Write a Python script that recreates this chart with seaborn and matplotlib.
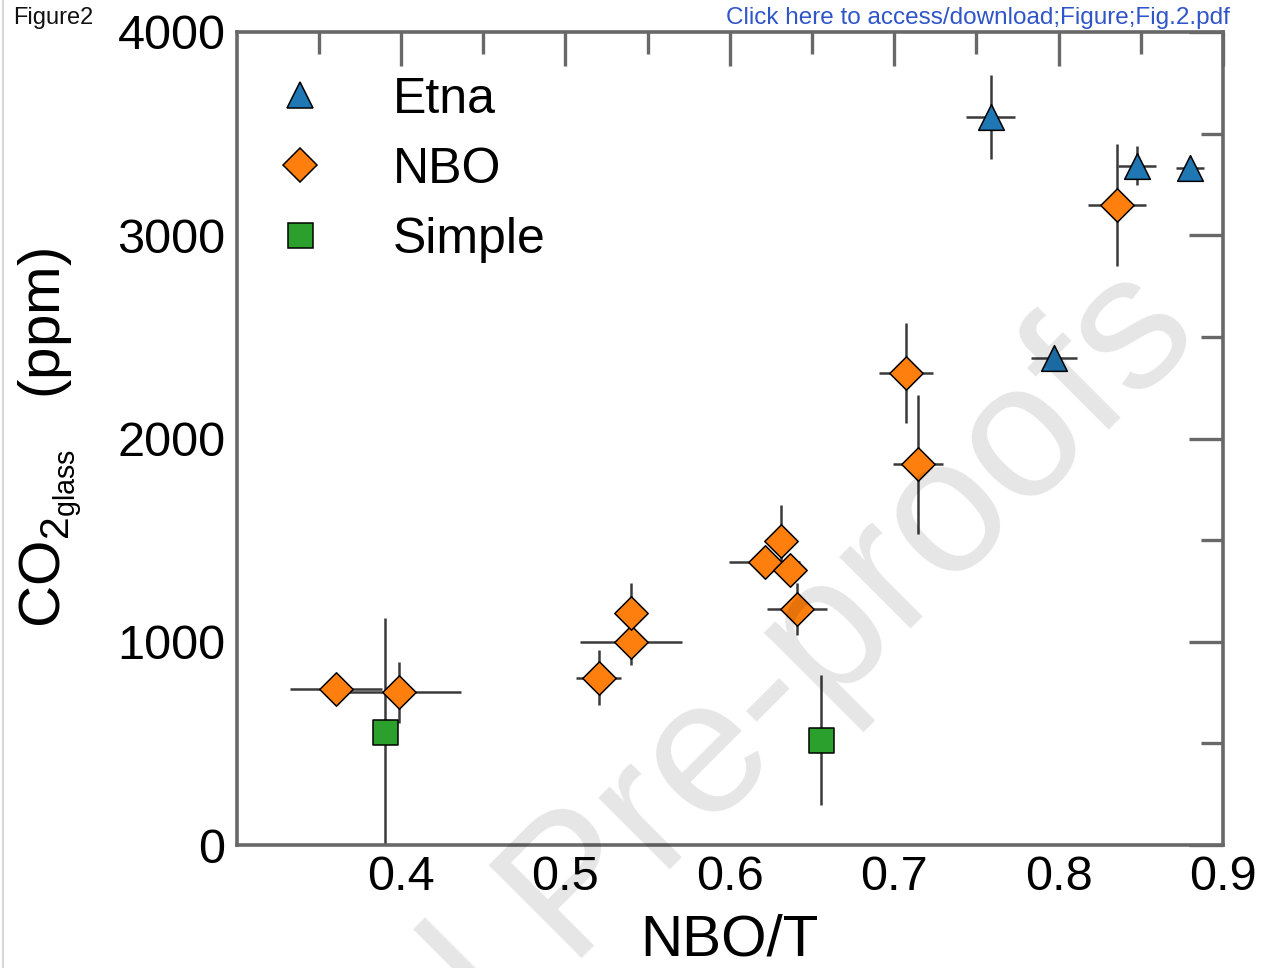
import numpy as np
import pandas as pd
import matplotlib
matplotlib.use("Agg")
import matplotlib.pyplot as plt
from matplotlib.lines import Line2D
from matplotlib.ticker import FixedLocator
import seaborn as sns

# ---------------- data ----------------
etna_x = [0.7586, 0.8475, 0.8799, 0.7973]
etna_y = [3580, 3342, 3329, 2394]
etna_xerr = [0.0147, 0.0115, 0.0084, 0.0139]
etna_yerr = [207, 96, 0, 0]

nbo_x = [0.3606, 0.3986, 0.5202, 0.5398, 0.5398, 0.6314, 0.6212, 0.6369, 0.6410, 0.7073, 0.7143, 0.8356]
nbo_y = [767, 751, 823, 999, 1140, 1497, 1394, 1353, 1161, 2321, 1873, 3149]
nbo_xerr = [0.028, 0.0376, 0.0136, 0.031, 0.0, 0.0, 0.0216, 0.0, 0.0183, 0.0165, 0.0152, 0.0178]
nbo_yerr = [0, 150, 135, 115, 148, 176, 0, 0, 128, 245, 343, 300]

simple_x = [0.3903, 0.6557]
simple_y = [557, 517]
simple_xerr = [0.0, 0.0]
simple_yerr = [560, 320]

groups = ["Etna", "NBO", "Simple"]
colors = {"Etna": "#1f77b4", "NBO": "#ff7f0e", "Simple": "#2ca02c"}
markers = {"Etna": "^", "NBO": "D", "Simple": "s"}
msizes = {"Etna": 18.5, "NBO": 17.0, "Simple": 18.0}

x_ticks = [0.4, 0.5, 0.6, 0.7, 0.8, 0.9]
x_minor = [0.35, 0.45, 0.55, 0.65, 0.75, 0.85]
y_ticks = [0, 1000, 2000, 3000, 4000]
y_minor = [500, 1500, 2500, 3500]

df = pd.concat([
    pd.DataFrame({"x": etna_x, "y": etna_y, "xe": etna_xerr, "ye": etna_yerr, "g": "Etna"}),
    pd.DataFrame({"x": nbo_x, "y": nbo_y, "xe": nbo_xerr, "ye": nbo_yerr, "g": "NBO"}),
    pd.DataFrame({"x": simple_x, "y": simple_y, "xe": simple_xerr, "ye": simple_yerr, "g": "Simple"}),
], ignore_index=True)

# ---------------- style ----------------
sns.set_theme(style="white")
plt.rcParams["font.family"] = ["Liberation Sans", "DejaVu Sans"]
plt.rcParams["mathtext.default"] = "regular"
plt.rcParams["mathtext.fontset"] = "custom"
plt.rcParams["mathtext.rm"] = "Liberation Sans"
plt.rcParams["text.color"] = "black"
plt.rcParams["axes.labelcolor"] = "black"

fig = plt.figure(figsize=(12.72, 9.68), dpi=100)
fig.patch.set_facecolor("white")
ax = fig.add_axes([0.186, 0.127, 0.7755, 0.840])

# error bars
for g in groups:
    d = df[df.g == g]
    ax.errorbar(d.x, d.y, xerr=d.xe, yerr=d.ye, fmt="none", ecolor="#3a3a3a",
                elinewidth=1.8, capsize=0, zorder=2)

# markers via seaborn
for g in groups:
    d = df[df.g == g]
    sns.scatterplot(data=d, x="x", y="y", ax=ax, marker=markers[g], color=colors[g],
                    s=msizes[g] ** 2, edgecolor="black", linewidth=1.1, zorder=3, legend=False)

ax.set_xlim(0.3, 0.9)
ax.set_ylim(0, 4000)
ax.xaxis.set_major_locator(FixedLocator(x_ticks))
ax.xaxis.set_minor_locator(FixedLocator(x_minor))
ax.yaxis.set_major_locator(FixedLocator(y_ticks))
ax.yaxis.set_minor_locator(FixedLocator(y_minor))
ax.set_xticklabels([f"{v:.1f}" for v in x_ticks])
ax.set_yticklabels([str(v) for v in y_ticks])

gray = "#686868"
for sp in ax.spines.values():
    sp.set_visible(True)
    sp.set_color(gray)
    sp.set_linewidth(2.6)
ax.tick_params(which="both", direction="in", top=True, right=True, width=2.4,
               color=gray, labelsize=35, labelcolor="black")
ax.tick_params(which="major", length=24.5)
ax.tick_params(which="minor", length=15.5)
ax.tick_params(axis="x", which="both", pad=7)
ax.tick_params(axis="y", which="both", pad=8)

ax.set_xlabel("NBO/T", fontsize=42, labelpad=10, color="black")
ax.set_ylabel(r"CO$_{2_{glass}}$   (ppm)", fontsize=42, labelpad=24, color="black")

# legend
handles = [Line2D([], [], ls="", marker=markers[g], markersize=msizes[g],
                  markerfacecolor=colors[g], markeredgecolor="black", markeredgewidth=1.1)
           for g in groups]
leg = ax.legend(handles, groups, loc="upper left", bbox_to_anchor=(0.039, 0.945), frameon=False,
                fontsize=36, handlelength=1.0, handletextpad=1.35, labelspacing=0.48,
                borderpad=0, borderaxespad=0)
for t in leg.get_texts():
    t.set_color("black")

# page decorations
fig.text(13 / 1272, 1 - 18 / 968, "Figure2", fontsize=17, va="center", ha="left", color="#111111")
fig.text(1230 / 1272, 1 - 18 / 968, "Click here to access/download;Figure;Fig.2.pdf",
         fontsize=17.5, va="center", ha="right", color="#2f55c8")
fig.add_artist(Line2D([3 / 1272, 3 / 1272], [0, 1], transform=fig.transFigure, color="#cfcfcf", lw=1.2))

# watermark
fig.text(89 / 1272, (968 - 1451) / 968, "Journal Pre-proofs", fontsize=138, rotation=45,
         rotation_mode="anchor", ha="left", va="baseline", color="black", alpha=0.1, zorder=10)

fig.savefig("out.png", dpi=100)
